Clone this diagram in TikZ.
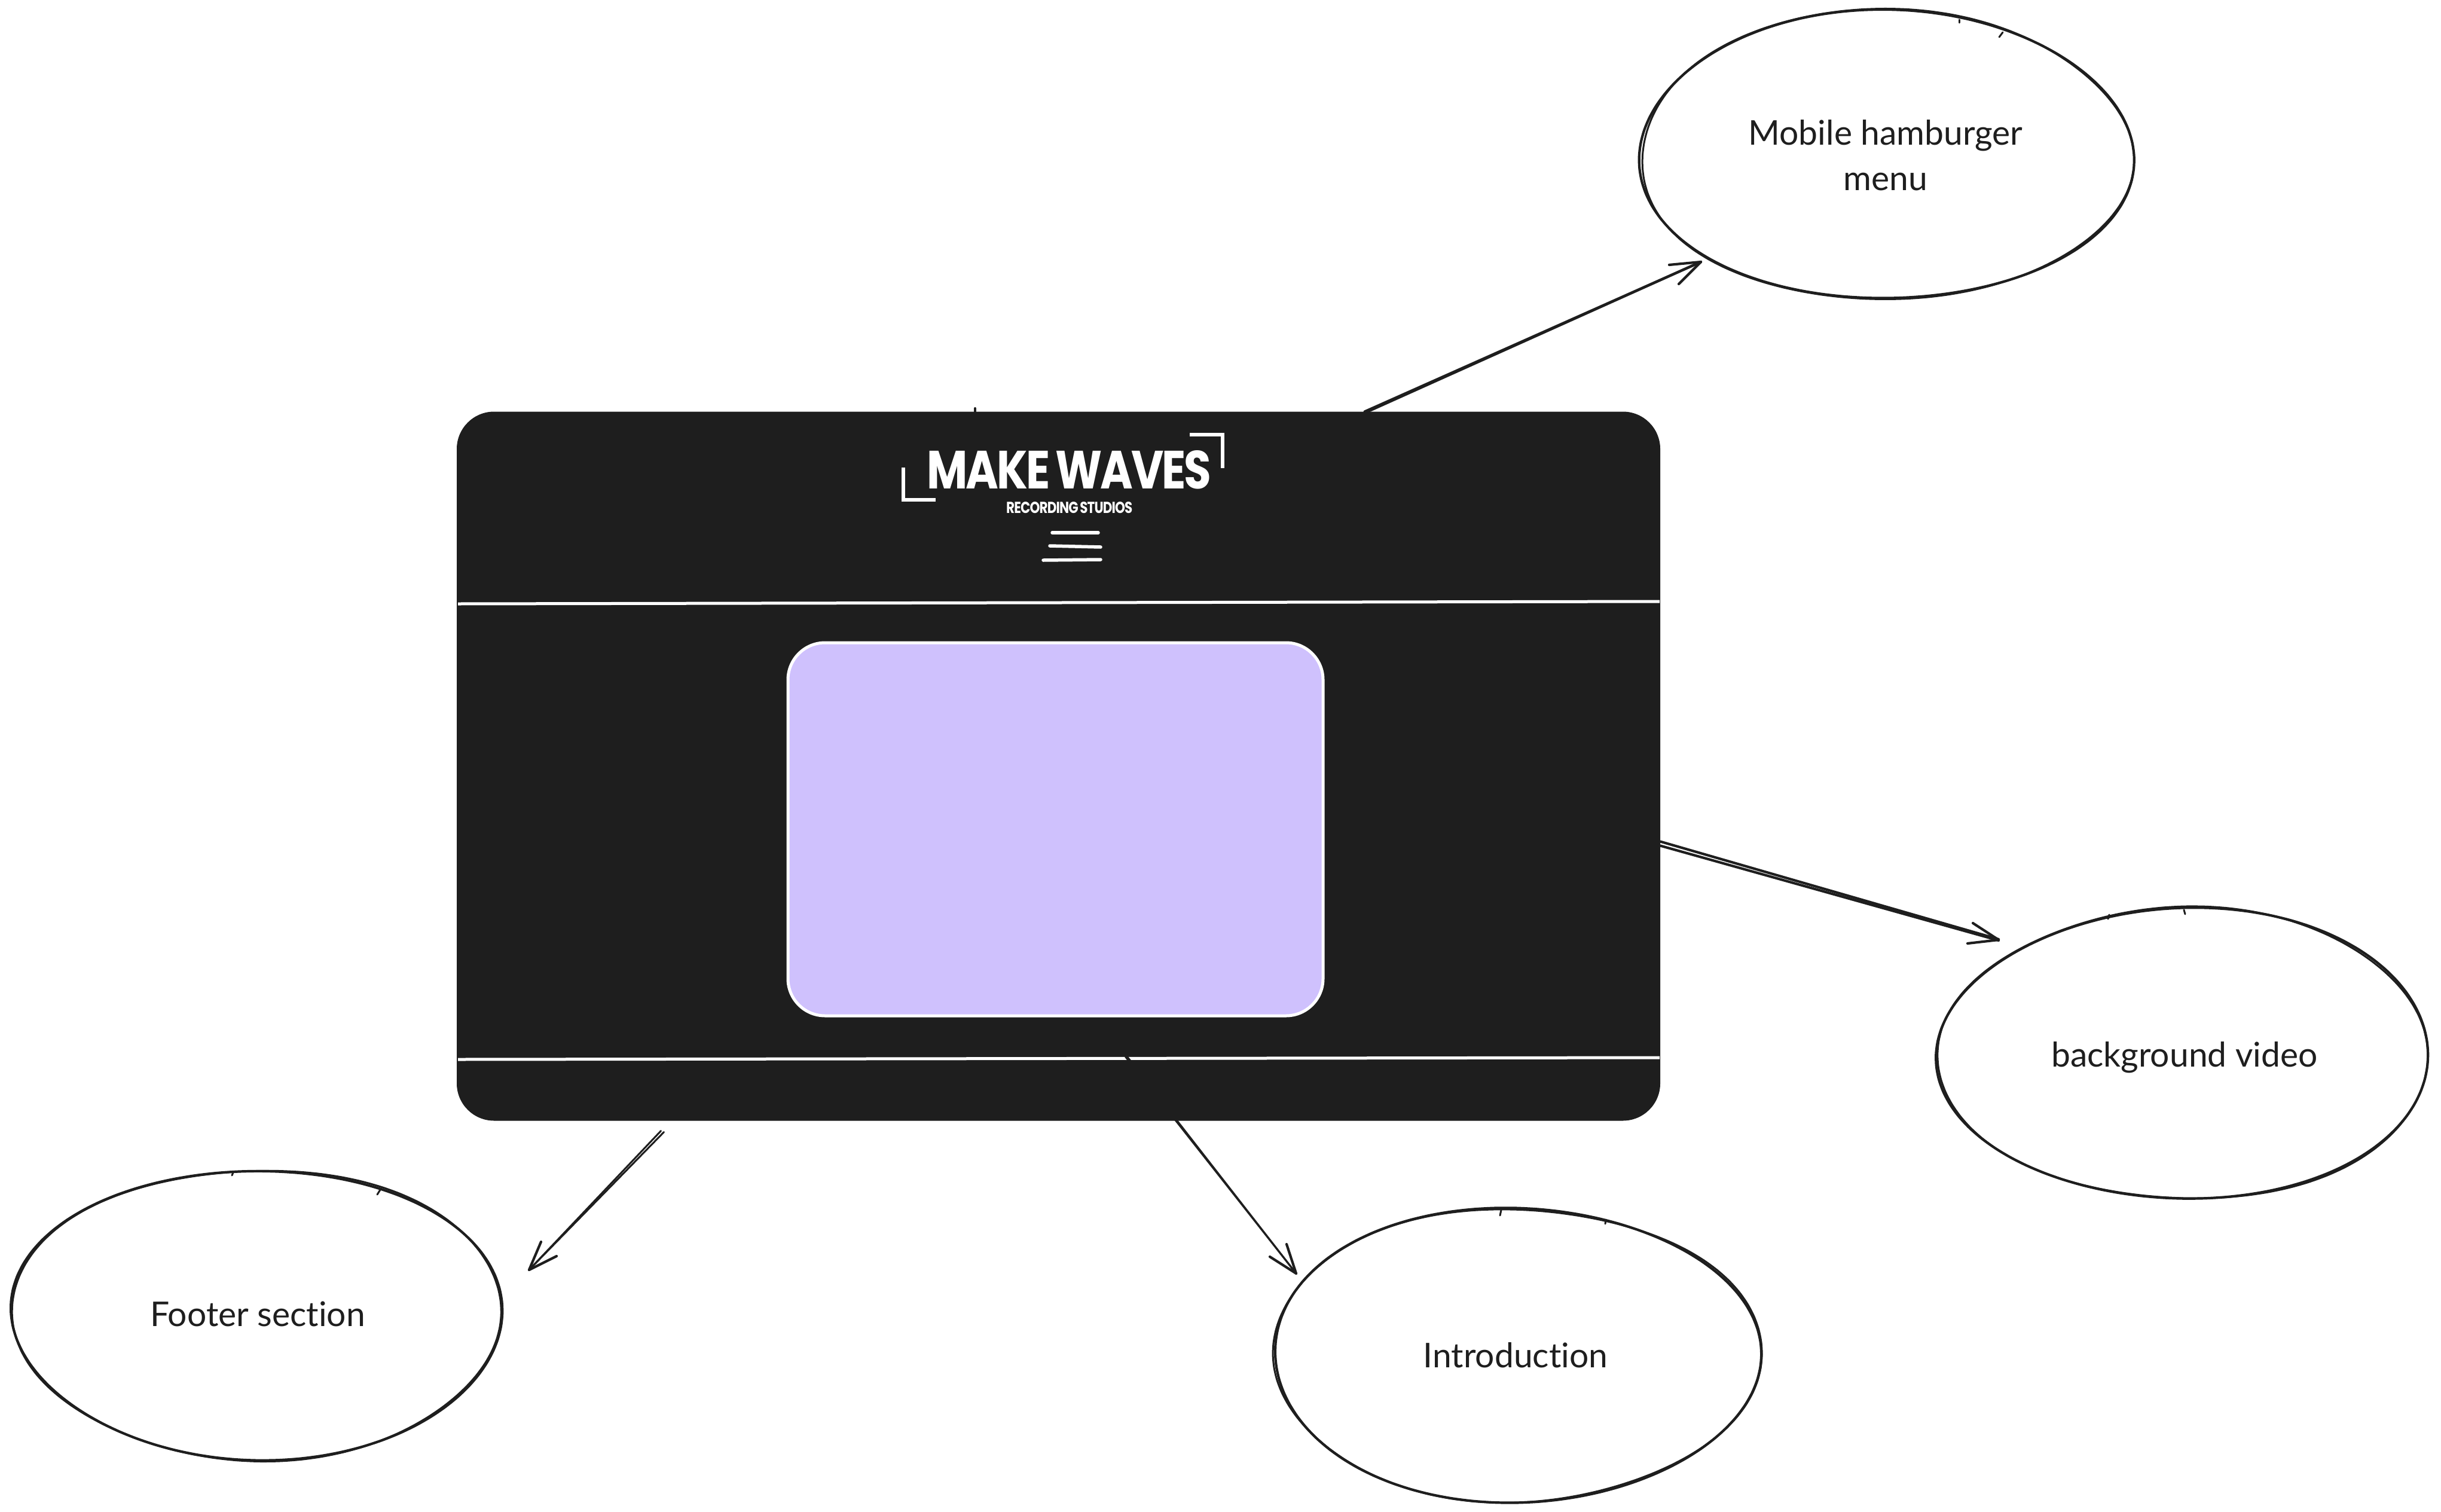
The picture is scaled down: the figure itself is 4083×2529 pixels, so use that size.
\documentclass[tikz,border=0pt]{standalone}
\usepackage{fontspec}
\usetikzlibrary{shapes.geometric,calc}
\setmainfont{Lato}[Ligatures=NoCommon]
\newfontfamily\logofont{Poppins}[LetterSpace=-4,WordSpace=0.7]
\definecolor{ink}{HTML}{1E1E1E}
\definecolor{lilac}{HTML}{CFC1FD}
\tikzset{
  x=1pt,y=-1pt,
  sk/.style={draw=ink,line width=4.2pt,line cap=round,line join=round},
  skthin/.style={draw=ink,line width=3pt,line cap=round,line join=round},
  screenbox/.style={rectangle,rounded corners=62pt,fill=ink,draw=ink,line width=1pt,inner sep=0pt,minimum width=2012pt,minimum height=1185pt},
  videobox/.style={rectangle,rounded corners=62pt,fill=lilac,draw=white,line width=5pt,inner sep=0pt,minimum width=895pt,minimum height=624pt},
  bubble/.style={ellipse,inner sep=0pt,text=ink,align=center,font=\fontsize{57}{76}\selectfont},
  divider/.style={draw=white,line width=5pt},
  burger/.style={draw=white,line width=5.5pt,line cap=round},
  logocorner/.style={draw=white,line width=6pt,line join=miter},
  logotext/.style={inner sep=0pt,text=white}
}
% name, cx, cy, rx, ry, text, phase1, phase2, options
\newcommand{\bubbleat}[9]{%
  \node[bubble,minimum width=#4*2pt,minimum height=#5*2pt,#9] (#1) at (#2,#3) {#6};
  \draw[sk] plot[smooth cycle,domain=0:355,samples=72]
    ({#2+#4*(1+0.012*sin(3*\x+#7)+0.007*sin(2*\x+#8))*cos(\x)},{#3+#5*(1+0.012*sin(3*\x+#7)+0.007*sin(2*\x+#8))*sin(\x)});
  \draw[skthin] plot[smooth cycle,domain=0:355,samples=72]
    ({#2+#4*(1+0.013*sin(3*\x+#7+12)+0.004*sin(5*\x+#8))*cos(\x)},{#3+#5*(1+0.013*sin(3*\x+#7+12)+0.004*sin(5*\x+#8))*sin(\x)});
}
\begin{document}
\begin{tikzpicture}
\fill[white] (0,0) rectangle (4083,2529);
\useasboundingbox (0,0) rectangle (4083,2529);

% screen
\node[screenbox] (screen) at (1770.5,1281.5) {};
\draw[draw=ink,line width=4pt,line cap=round] (1631,683) -- (1631,692);
\node[videobox] (video) at (1765.5,1387) {};
\draw[divider] (766,1010) -- (2776,1006);
\draw[divider] (766,1772) -- (2776,1769);

% logo
\draw[logocorner] (1511,782) -- (1511,836) -- (1565,836);
\draw[logocorner] (1990,727) -- (2045,727) -- (2045,783);
\node[logotext,anchor=north west] (logoA) at (1550,753) {\resizebox{476pt}{64pt}{\logofont\bfseries MAKE WAVES}};
\node[logotext,anchor=north west] (logoB) at (1683,839) {\resizebox{211pt}{19pt}{\logofont\bfseries RECORDING STUDIOS}};
\draw[burger] (1760,891) -- (1837,891);
\draw[burger] (1756,913) -- (1841,915);
\draw[burger] (1745,937) -- (1841,936);

% bubbles
\bubbleat{mobile}{3154}{260}{411}{243}{Mobile hamburger\\menu}{20}{80}{}
\bubbleat{footer}{431}{2198}{409}{243}{Footer section}{200}{40}{text depth=0pt}
\bubbleat{intro}{2535}{2266}{409}{245}{Introduction}{110}{300}{text depth=0pt}
\bubbleat{bgvideo}{3654}{1763}{410}{244}{background video}{300}{150}{text depth=0pt}

% sketch ticks
\draw[skthin] (3350,54) -- (3344,62);
\draw[skthin] (3277,33) -- (3277,38);
\draw[skthin] (390,1961) -- (388,1966);
\draw[skthin] (636,1990) -- (631,1998);
\draw[skthin] (2511,2024) -- (2509,2033);
\draw[skthin] (2686,2040) -- (2685,2047);
\draw[skthin] (3528,1530) -- (3526,1537);
\draw[skthin] (3653,1522) -- (3655,1529);

% arrow free ends
\coordinate (tipMobile) at (2845,438);
\coordinate (tipVideo) at (3343,1572);
\coordinate (tipIntro) at (2168,2130);
\coordinate (tipFooter) at (885,2124);

% to Mobile hamburger menu
\draw[sk] ([xshift=512pt]screen.north) -- (tipMobile);
\draw[sk] ([xshift=517pt]screen.north) -- (tipMobile);
\draw[sk] (tipMobile) -- (2792,443);
\draw[sk] (tipMobile) -- (2808,475);
% to background video
\draw[sk] ([yshift=-126pt]screen.east) -- ([yshift=1pt]tipVideo);
\draw[sk] ([yshift=-133pt]screen.east) -- ([yshift=-1pt]tipVideo);
\draw[sk] (tipVideo) -- (3300,1544);
\draw[sk] (tipVideo) -- (3291,1578);
% to Introduction
\draw[skthin] ([xshift=112pt,yshift=107pt]screen.south) -- (tipIntro);
\draw[skthin] ([xshift=115pt,yshift=107pt]screen.south) -- (tipIntro);
\draw[sk] (tipIntro) -- (2152,2081);
\draw[sk] (tipIntro) -- (2124,2102);
% to Footer section
\draw[skthin] ([xshift=-665pt,yshift=-17pt]screen.south) -- (tipFooter);
\draw[skthin] ([xshift=-660pt,yshift=-19pt]screen.south) -- (tipFooter);
\draw[sk] (tipFooter) -- (905,2077);
\draw[sk] (tipFooter) -- (931,2101);
\end{tikzpicture}
\end{document}
